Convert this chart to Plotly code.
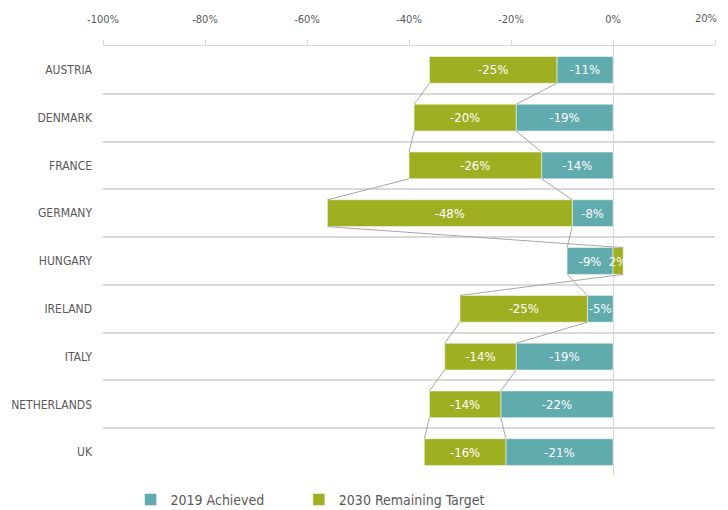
import plotly.graph_objects as go

countries = ["AUSTRIA", "DENMARK", "FRANCE", "GERMANY", "HUNGARY",
             "IRELAND", "ITALY", "NETHERLANDS", "UK"]
achieved_2019 = [-11, -19, -14, -8, -9, -5, -19, -22, -21]
remaining_2030 = [-25, -20, -26, -48, 2, -25, -14, -14, -16]
x_ticks = [-100, -80, -60, -40, -20, 0, 20]

TEAL = "#5FABAD"
OLIVE = "#9FAF22"
GRID = "#D9D9D9"
TXT = "#595959"
FONT = "Liberation Sans Narrow, DejaVu Sans Condensed, Roboto, sans-serif"
BAR_W = 0.56

idx = list(range(len(countries)))

fig = go.Figure()


def ends_teal():
    return list(achieved_2019)


def ends_green():
    out = []
    for a, r in zip(achieved_2019, remaining_2030):
        if r < 0:
            out.append(min(a, 0) + r)
        else:
            out.append(max(a, 0) + r)
    return out


# series lines connecting the ends of consecutive bars
for ends in (ends_teal(), ends_green()):
    xs, ys = [], []
    for i in range(len(ends) - 1):
        xs += [ends[i], ends[i + 1], None]
        ys += [i + BAR_W / 2, i + 1 - BAR_W / 2, None]
    fig.add_trace(go.Scatter(x=xs, y=ys, mode="lines",
                             line=dict(color="#A6A6A6", width=1),
                             showlegend=False, hoverinfo="skip"))

fig.add_trace(go.Bar(
    name="2019 Achieved", y=idx, x=achieved_2019, orientation="h",
    marker=dict(color=TEAL, line=dict(color="white", width=0.5)),
    width=BAR_W, legend="legend",
    text=[f"{v}%" for v in achieved_2019], textposition="inside",
    insidetextanchor="middle", constraintext="none", textangle=0,
    textfont=dict(color="white", size=13, family=FONT),
))
fig.add_trace(go.Bar(
    name="2030 Remaining Target", y=idx, x=remaining_2030, orientation="h",
    marker=dict(color=OLIVE, line=dict(color="white", width=0.5)),
    width=BAR_W, legend="legend2",
    text=[f"{v}%" for v in remaining_2030], textposition="inside",
    insidetextanchor="middle", constraintext="none", textangle=0,
    textfont=dict(color="white", size=13, family=FONT),
))

leg_common = dict(orientation="h", xanchor="left", yref="container",
                  y=0.02, yanchor="middle", itemwidth=30,
                  bgcolor="rgba(0,0,0,0)",
                  font=dict(size=14, color=TXT))

# last tick label is drawn right-anchored so it stays inside the window
tick_text = [f"{v}%" for v in x_ticks[:-1]] + [""]
fig.add_annotation(x=x_ticks[-1], xref="x", y=1, yref="paper",
                   text=f"{x_ticks[-1]}%", showarrow=False,
                   xanchor="right", xshift=4, yanchor="middle", yshift=28,
                   font=dict(size=11, color=TXT, family=FONT))

# page body has an 8px margin, so the figure is sized to fit the window
fig.update_layout(
    width=720, height=502,
    margin=dict(l=95, r=13, t=38, b=34),
    barmode="relative",
    plot_bgcolor="white", paper_bgcolor="white",
    font=dict(family=FONT, color=TXT, size=13),
    legend=dict(x=0.045, **leg_common),
    legend2=dict(x=0.32, **leg_common),
    xaxis=dict(
        side="top", range=[-100, 20], tickvals=x_ticks,
        ticktext=tick_text, automargin=False,
        showgrid=False, zeroline=True, zerolinecolor=GRID, zerolinewidth=1,
        showline=True, linecolor=GRID, linewidth=1,
        ticks="outside", ticklen=5, tickcolor=GRID,
        tickfont=dict(size=11, color=TXT), ticklabelstandoff=13,
    ),
    yaxis=dict(
        range=[len(countries) - 0.5, -0.5], tickvals=idx,
        ticktext=countries, automargin=False,
        showgrid=False, zeroline=False, ticks="",
        tickfont=dict(size=12, color=TXT), ticklabelstandoff=10,
        minor=dict(tickvals=[i - 0.5 for i in range(len(countries) + 1)],
                   showgrid=True, gridcolor=GRID, gridwidth=1.5, ticks=""),
    ),
)

fig.write_html("out.html")
